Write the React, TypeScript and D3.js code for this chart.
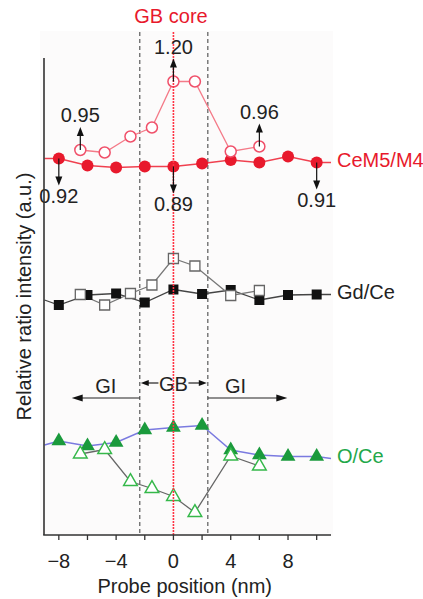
import React from "react";
import * as d3 from "d3";

// ---------- data ----------
const xFilled = [-8, -6, -4, -2, 0, 2, 4, 6, 8, 10];
const xOpen = [-6.5, -4.8, -3, -1.5, 0, 1.5, 4, 6];

const ceFilled = [75.3, 73.9, 73.5, 73.7, 73.7, 74.3, 75.0, 74.5, 75.7, 74.5];
const ceOpen = [77, 76.5, 79.7, 81.5, 90.7, 90.7, 76.7, 77.7];
const ceEdges = [75.3, 74.5];

const gdFilled = [46, 48, 48.3, 46.5, 49.1, 48.2, 49, 47, 48, 48.1];
const gdOpen = [48.1, 46, 48.3, 50, 55.3, 53.8, 47.9, 48.9];
const gdEdges = [47, 48.1];

const oFilled = [18.8, 17.8, 18.5, 21, 21.5, 21.9, 17, 16, 15.7, 15.7];
const oOpen = [16.2, 17.1, 10.7, 9.3, 7.7, 4.5, 15.8, 13.8];
const oEdges = [18, 15.3];

const xTicks = [-8, -6, -4, -2, 0, 2, 4, 6, 8, 10];
const xTickLabels = [-8, -4, 0, 4, 8];

const gbBounds = [-2.35, 2.4];
const giLeft = [-2.35, -7.1];
const giRight = [2.4, 7.95];

// annotations: [x, value, label, direction]
const upNotes: [number, number, string][] = [
  [-6.5, 77, "0.95"],
  [0, 90.7, "1.20"],
  [6, 77.7, "0.96"],
];
const downNotes: [number, number, string][] = [
  [-8, 75.3, "0.92"],
  [0, 73.7, "0.89"],
  [10, 74.5, "0.91"],
];

const seriesLabels = ["CeM5/M4", "Gd/Ce", "O/Ce"];

// ---------- layout ----------
const W = 423;
const H = 599;
const x = d3.scaleLinear().domain([-9, 11]).range([44.5, 331]);
const y = d3.scaleLinear().domain([0, 100]).range([535, 35]);
const FONT = "'Liberation Sans', Arial, Helvetica, sans-serif";

const RED = "#e8192c";
const GREEN = "#1a9a3c";
const GREEN_TXT = "#22a84a";

function linePath(xs: number[], vs: number[], edges?: number[]) {
  const pts: [number, number][] = xs.map((xv, i) => [x(xv), y(vs[i])]);
  if (edges) {
    pts.unshift([x.range()[0], y(edges[0])]);
    pts.push([x.range()[1], y(edges[1])]);
  }
  return d3.line()(pts) || "";
}

const tri = (s: number) => d3.symbol().type(d3.symbolTriangle).size(s)() || "";
const sq = (s: number) => d3.symbol().type(d3.symbolSquare).size(s)() || "";

function ArrowHead({ px, py, dir, len = 9, half = 3.5 }: { px: number; py: number; dir: "up" | "down" | "left" | "right"; len?: number; half?: number }) {
  let pts: number[][];
  if (dir === "up") pts = [[px, py], [px - half, py + len], [px + half, py + len]];
  else if (dir === "down") pts = [[px, py], [px - half, py - len], [px + half, py - len]];
  else if (dir === "left") pts = [[px, py], [px + len, py - half], [px + len, py + half]];
  else pts = [[px, py], [px - len, py - half], [px - len, py + half]];
  return <polygon points={pts.map((p) => p.join(",")).join(" ")} fill="#111" />;
}

export default function App() {
  const yBottom = y(0);
  const plotTop = 32;
  const axisTop = 58;
  const giY = 398;
  const gbY = 383;

  return (
    <svg width={W} height={H} style={{ position: "absolute", left: 0, top: 0, background: "#fff" }} fontFamily={FONT}>
      <rect x={40} y={31} width={293} height={505} fill="#fcfbfb" />

      {/* GB boundary dashed lines */}
      {gbBounds.map((b, i) => (
        <line key={i} x1={x(b)} x2={x(b)} y1={plotTop} y2={yBottom} stroke="#666" strokeWidth={1.3} strokeDasharray="4,3" />
      ))}

      {/* GI / GB arrows */}
      <line x1={x(giLeft[0])} x2={x(giLeft[1]) + 6} y1={giY} y2={giY} stroke="#222" strokeWidth={1.2} />
      <ArrowHead px={x(giLeft[1])} py={giY} dir="left" len={11} half={3.5} />
      <line x1={x(giRight[0])} x2={x(giRight[1]) - 6} y1={giY} y2={giY} stroke="#222" strokeWidth={1.2} />
      <ArrowHead px={x(giRight[1])} py={giY} dir="right" len={11} half={3.5} />
      <text x={(x(giLeft[0]) + x(giLeft[1])) / 2} y={393} fontSize={20} textAnchor="middle" fill="#222">GI</text>
      <text x={(x(giRight[0]) + x(giRight[1])) / 2 - 12} y={393} fontSize={20} textAnchor="middle" fill="#222">GI</text>
      <text x={x(0)} y={391} fontSize={20} textAnchor="middle" fill="#222">GB</text>
      <line x1={x(0) - 15} x2={x(gbBounds[0]) + 4} y1={gbY} y2={gbY} stroke="#222" strokeWidth={1.2} />
      <ArrowHead px={x(gbBounds[0]) + 1} py={gbY} dir="left" len={8} half={3} />
      <line x1={x(0) + 15} x2={x(gbBounds[1]) - 4} y1={gbY} y2={gbY} stroke="#222" strokeWidth={1.2} />
      <ArrowHead px={x(gbBounds[1]) - 1} py={gbY} dir="right" len={8} half={3} />

      {/* Lines */}
      <path d={linePath(xFilled, ceFilled, ceEdges)} fill="none" stroke="#f0404f" strokeWidth={1.5} />
      <path d={linePath(xOpen, ceOpen)} fill="none" stroke="#f47a88" strokeWidth={1.3} />
      <path d={linePath(xFilled, gdFilled, gdEdges)} fill="none" stroke="#444" strokeWidth={1.3} />
      <path d={linePath(xOpen, gdOpen)} fill="none" stroke="#777" strokeWidth={1.3} />
      <path d={linePath(xFilled, oFilled, oEdges)} fill="none" stroke="#7a7ae0" strokeWidth={1.5} />
      <path d={linePath(xOpen, oOpen)} fill="none" stroke="#666" strokeWidth={1.3} />

      {/* Markers */}
      {xFilled.map((xv, i) => (
        <circle key={"cf" + i} cx={x(xv)} cy={y(ceFilled[i])} r={6} fill={RED} />
      ))}
      {xOpen.map((xv, i) => (
        <circle key={"co" + i} cx={x(xv)} cy={y(ceOpen[i])} r={5.5} fill="#fff" stroke="#f0506a" strokeWidth={1.5} />
      ))}
      {xFilled.map((xv, i) => (
        <path key={"gf" + i} d={sq(100)} transform={`translate(${x(xv)},${y(gdFilled[i])})`} fill="#111" />
      ))}
      {xOpen.map((xv, i) => (
        <path key={"go" + i} d={sq(100)} transform={`translate(${x(xv)},${y(gdOpen[i])})`} fill="#fff" stroke="#666" strokeWidth={1.3} />
      ))}
      {xFilled.map((xv, i) => (
        <path key={"of" + i} d={tri(95)} transform={`translate(${x(xv)},${y(oFilled[i])})`} fill={GREEN} />
      ))}
      {xOpen.map((xv, i) => (
        <path key={"oo" + i} d={tri(80)} transform={`translate(${x(xv)},${y(oOpen[i])})`} fill="#fff" stroke="#35b84a" strokeWidth={1.5} />
      ))}

      {/* GB core red dotted line */}
      <line x1={x(0)} x2={x(0)} y1={plotTop} y2={yBottom} stroke="#ff3344" strokeWidth={1.6} strokeDasharray="2,1" />

      {/* Up annotations */}
      {upNotes.map(([xv, v, lab], i) => {
        const px = x(xv);
        const py = y(v);
        const tip = py - 23;
        return (
          <g key={"up" + i}>
            <line x1={px} x2={px} y1={py} y2={tip + 6} stroke="#111" strokeWidth={1.2} />
            <ArrowHead px={px} py={tip} dir="up" />
            <text x={px} y={tip - 5} fontSize={20} textAnchor="middle" fill="#222">{lab}</text>
          </g>
        );
      })}
      {downNotes.map(([xv, v, lab], i) => {
        const px = x(xv);
        const py = y(v);
        const tip = py + 27;
        return (
          <g key={"dn" + i}>
            <line x1={px} x2={px} y1={py} y2={tip - 6} stroke="#111" strokeWidth={1.2} />
            <ArrowHead px={px} py={tip} dir="down" />
            <text x={px} y={tip + 17} fontSize={20} textAnchor="middle" fill="#222">{lab}</text>
          </g>
        );
      })}

      {/* Axes */}
      <line x1={44} x2={44} y1={axisTop} y2={yBottom} stroke="#333" strokeWidth={1.6} />
      <line x1={43.2} x2={x.range()[1]} y1={yBottom} y2={yBottom} stroke="#333" strokeWidth={1.6} />
      {xTicks.map((t) => (
        <line key={"t" + t} x1={x(t)} x2={x(t)} y1={yBottom} y2={yBottom + 5} stroke="#333" strokeWidth={1.3} />
      ))}
      {xTickLabels.map((t) => (
        <text key={"tl" + t} x={x(t)} y={568} fontSize={20} textAnchor="middle" fill="#222">
          {t < 0 ? "\u2212" + Math.abs(t) : String(t)}
        </text>
      ))}
      <text x={(x.range()[0] + x.range()[1]) / 2 - 3} y={593} fontSize={20} textAnchor="middle" fill="#222">Probe position (nm)</text>
      <text transform={`translate(31,${(axisTop + yBottom) / 2}) rotate(-90)`} fontSize={20} textAnchor="middle" fill="#222">
        Relative ratio intensity (a.u.)
      </text>

      {/* Series labels */}
      <text x={337} y={167} fontSize={20} fill={RED}>{seriesLabels[0]}</text>
      <text x={337} y={299} fontSize={20} fill="#222">{seriesLabels[1]}</text>
      <text x={337} y={463} fontSize={20} fill={GREEN_TXT}>{seriesLabels[2]}</text>

      <text x={171} y={23} fontSize={20} textAnchor="middle" fill={RED}>GB core</text>
    </svg>
  );
}
